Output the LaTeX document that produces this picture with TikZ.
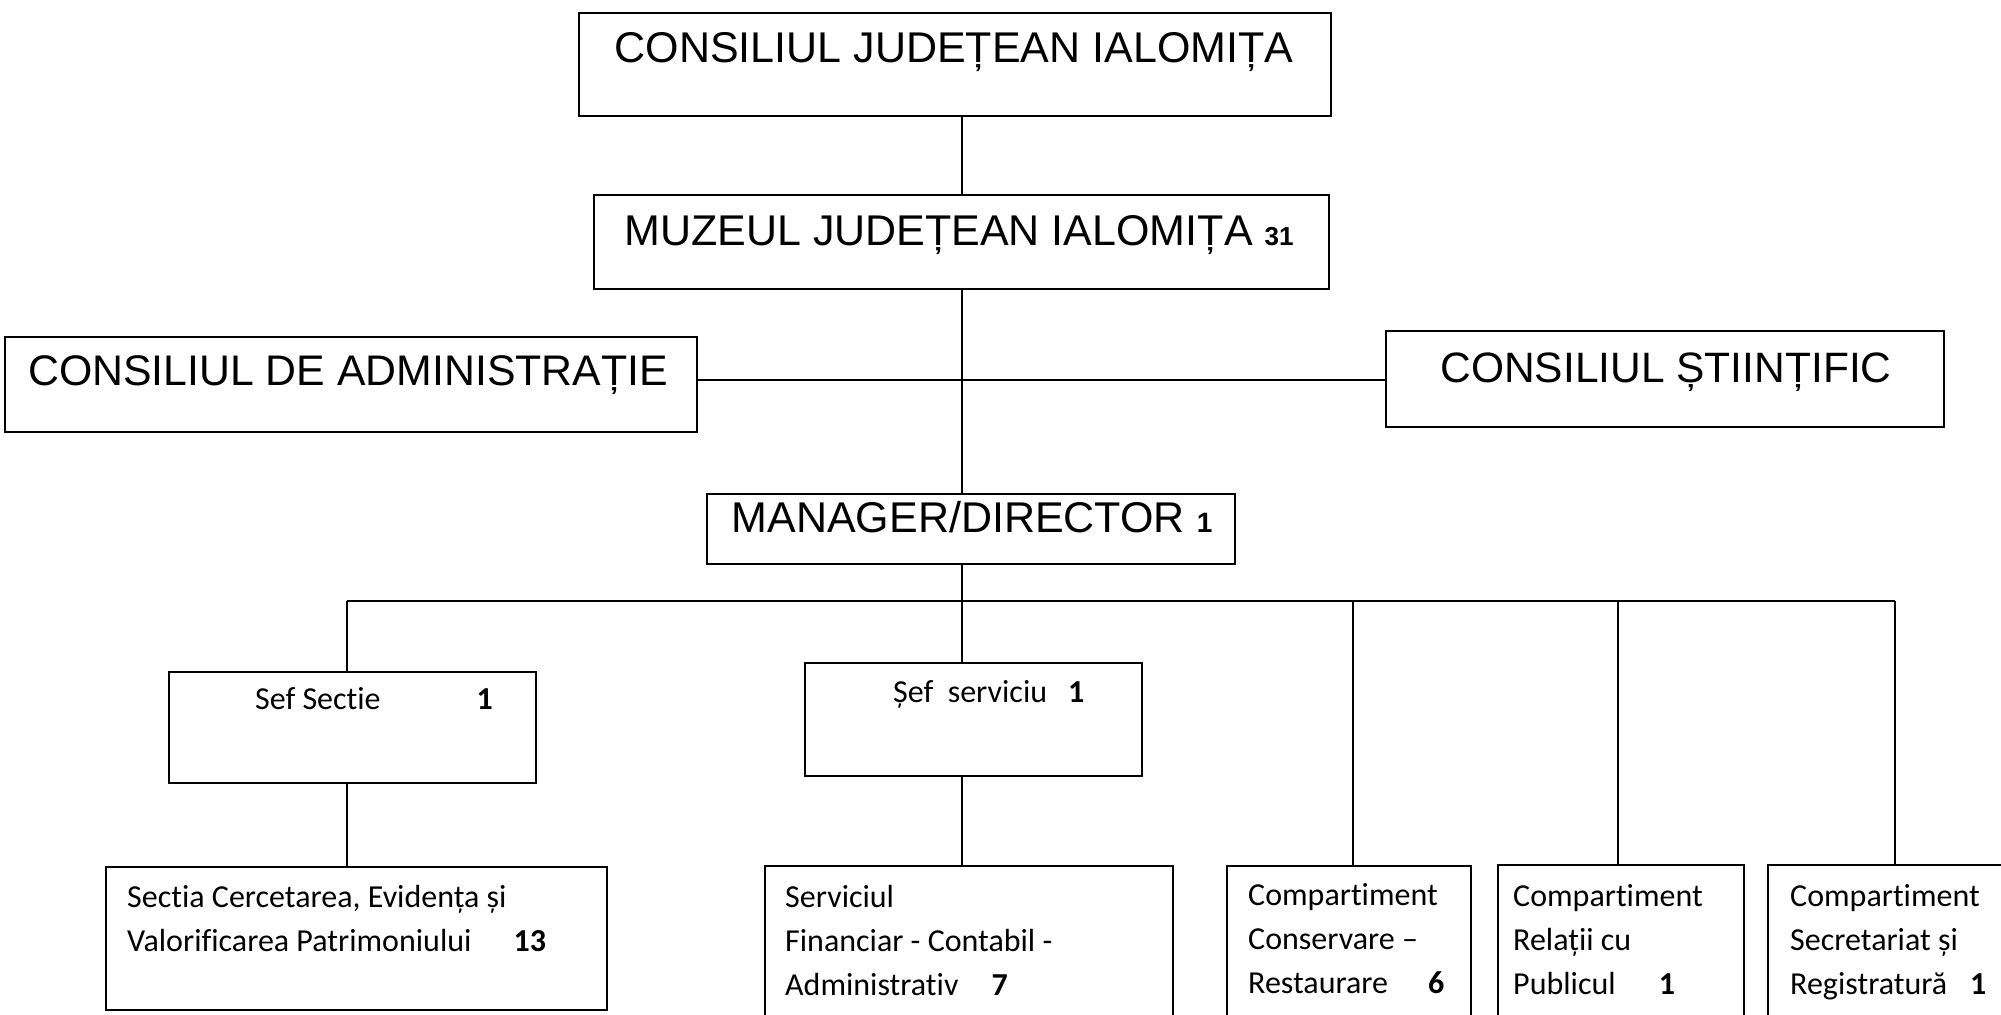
\documentclass[tikz,border=0pt]{standalone}
\usepackage{fontspec}
\setmainfont{Liberation Sans}
\newfontfamily\calfont[Ligatures=NoCommon]{Carlito}
\begin{document}
\begin{tikzpicture}[x=1pt,y=-1pt,
  box/.style={draw, line width=2.2pt, rectangle, inner sep=0pt, anchor=north west},
  conn/.style={line width=2.2pt},
  big/.style={inner sep=0pt, anchor=base, font=\fontsize{43}{50}\selectfont},
  small/.style={inner sep=0pt, anchor=base west, font=\calfont\fontsize{32}{44}\selectfont},
]
\useasboundingbox (0,0) rectangle (2001,1014);
\clip (0,0) rectangle (2001,1014);

% boxes
\node[box, minimum width=752pt, minimum height=103pt] (cji) at (578,12) {};
\node[box, minimum width=735pt, minimum height=94pt] (muz) at (593,194) {};
\node[box, minimum width=692pt, minimum height=95pt] (cda) at (4,336) {};
\node[box, minimum width=558pt, minimum height=96pt] (cs) at (1385,330) {};
\node[box, minimum width=528pt, minimum height=70pt] (mgr) at (706,493) {};
\node[box, minimum width=367pt, minimum height=111pt] (sefsec) at (168,671) {};
\node[box, minimum width=337pt, minimum height=113pt] (sefsrv) at (804,662) {};
\node[box, minimum width=501pt, minimum height=143pt] (sectia) at (105,866) {};
\node[box, minimum width=408pt, minimum height=170pt] (serv) at (764,865) {};
\node[box, minimum width=244pt, minimum height=170pt] (cons) at (1226,865) {};
\node[box, minimum width=246pt, minimum height=170pt] (rel) at (1497,864) {};
\node[box, minimum width=250pt, minimum height=170pt] (secr) at (1767,864) {};

% texts
\node[big] (tcji) at (954,63) {CONSILIUL JUDEȚEAN IALOMIȚA};
\node[big] (tmuz) at (959,245) {MUZEUL JUDEȚEAN IALOMIȚA {\fontsize{26}{30}\selectfont\bfseries 31}};
\node[big, font=\fontsize{42.8}{48}\selectfont] (tcda) at (348,385) {CONSILIUL DE ADMINISTRAȚIE};
\node[big, font=\fontsize{42.5}{48}\selectfont] (tcs) at (1666,382) {CONSILIUL ȘTIINȚIFIC};
\node[big] (tmgr) at (972,532) {MANAGER/DIRECTOR {\fontsize{28}{30}\selectfont\bfseries 1}};

\node[small] (tsefsec) at (255,709) {Sef Sectie\hspace{96pt}\textbf{1}};
\node[small] (tsefsrv) at (893,702) {Șef\ \ serviciu\hspace{21pt}\textbf{1}};
\node[small] (tsectia) at (127,907) {\begin{tabular}[t]{@{}l@{}}Sectia Cercetarea, Evidența și\\ Valorificarea Patrimoniului\hspace{42pt}\textbf{13}\end{tabular}};
\node[small] (tserv) at (785,907) {\begin{tabular}[t]{@{}l@{}}Serviciul\\ Financiar - Contabil -\\ Administrativ\hspace{33pt}\textbf{7}\end{tabular}};
\node[small] (tcons) at (1248,905) {\begin{tabular}[t]{@{}l@{}}Compartiment\\ Conservare –\\ Restaurare\hspace{40pt}\textbf{6}\end{tabular}};
\node[small] (trel) at (1513,906) {\begin{tabular}[t]{@{}l@{}}Compartiment\\ Relații cu\\ Publicul\hspace{43pt}\textbf{1}\end{tabular}};
\node[small] (tsecr) at (1790,906) {\begin{tabular}[t]{@{}l@{}}Compartiment\\ Secretariat și\\ Registratură\hspace{23pt}\textbf{1}\end{tabular}};

% connectors
\coordinate (hy) at (0,380);
\coordinate (busL) at (347,601);
\coordinate (busR) at (1895,601);
\coordinate (dC) at (1353,601);
\coordinate (dR) at (1618,601);
\draw[conn] (cji.south -| muz.north) -- (muz.north);
\draw[conn] (muz.south) -- (muz.south |- mgr.north);
\draw[conn] (cda.east |- hy) -- (cs.west |- hy);
\draw[conn] (muz.south |- mgr.south) -- (muz.south |- busL);
\draw[conn] (busL) -- (busR);
\draw[conn] (busL) -- (busL |- sefsec.north);
\draw[conn] (busL |- sefsec.south) -- (busL |- sectia.north);
\draw[conn] (muz.south |- busL) -- (muz.south |- sefsrv.north);
\draw[conn] (muz.south |- sefsrv.south) -- (muz.south |- serv.north);
\draw[conn] (dC) -- (dC |- cons.north);
\draw[conn] (dR) -- (dR |- rel.north);
\draw[conn] (busR) -- (busR |- secr.north);
\end{tikzpicture}
\end{document}
